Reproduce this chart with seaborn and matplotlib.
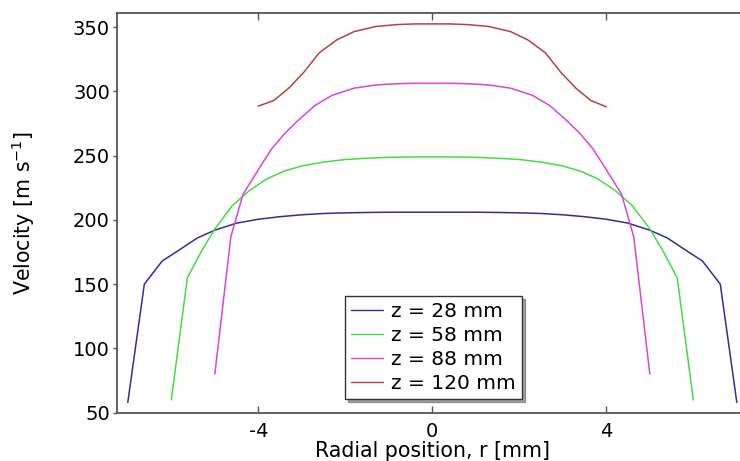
import numpy as np
import pandas as pd
import matplotlib
matplotlib.use("Agg")
import matplotlib.pyplot as plt
import seaborn as sns

# ---- data ----
labels = ["z = 28 mm", "z = 58 mm", "z = 88 mm", "z = 120 mm"]
colors = ["#2e2e98", "#44dc44", "#d845d8", "#bb4040"]

r_28 = [-7.0, -6.62, -6.21, -5.8, -5.4, -5.0, -4.5, -4.0, -3.5, -3.0, -2.5, -2.0, -1.5, -1.0, -0.5, 0.0,
        0.5, 1.0, 1.5, 2.0, 2.5, 3.0, 3.5, 4.0, 4.5, 5.0, 5.4, 5.8, 6.21, 6.62, 7.0]
v_28 = [58, 150, 168, 177, 186, 192, 197.5, 200.5, 202.5, 204, 205, 205.5, 205.8, 206, 206, 206,
        206, 206, 205.8, 205.5, 205, 204, 202.5, 200.5, 197.5, 192, 186, 177, 168, 150, 58]

r_58 = [-6.0, -5.63, -5.3, -5.0, -4.6, -4.2, -3.8, -3.4, -3.0, -2.5, -2.0, -1.5, -1.0, -0.5, 0.0,
        0.5, 1.0, 1.5, 2.0, 2.5, 3.0, 3.4, 3.8, 4.2, 4.6, 5.0, 5.3, 5.63, 6.0]
v_58 = [60, 155, 176, 193, 211, 223, 232, 238, 242, 245, 247, 248, 248.7, 249, 249,
        249, 248.7, 248, 247, 245, 242, 238, 232, 223, 211, 193, 176, 155, 60]

r_88 = [-5.0, -4.63, -4.35, -4.0, -3.7, -3.4, -3.1, -2.7, -2.3, -1.8, -1.3, -0.8, -0.4, 0.0,
        0.4, 0.8, 1.3, 1.8, 2.3, 2.7, 3.1, 3.4, 3.7, 4.0, 4.35, 4.63, 5.0]
v_88 = [80, 187, 220, 239, 255, 267, 277, 289, 297, 302.5, 305, 306, 306.3, 306.3,
        306.3, 306, 305, 302.5, 297, 289, 277, 267, 255, 239, 220, 187, 80]

r_120 = [-4.0, -3.64, -3.3, -2.95, -2.6, -2.2, -1.8, -1.3, -0.8, -0.4, 0.0,
         0.4, 0.8, 1.3, 1.8, 2.2, 2.6, 2.95, 3.3, 3.64, 4.0]
v_120 = [288.5, 293, 302.5, 315, 330, 340, 346.5, 350.5, 352, 352.5, 352.5,
         352.5, 352, 350.5, 346.5, 340, 330, 315, 302.5, 293, 288]

x_ticks = [-4, 0, 4]
y_ticks = [50, 100, 150, 200, 250, 300, 350]

frames = []
for lab, rr, vv in zip(labels, [r_28, r_58, r_88, r_120], [v_28, v_58, v_88, v_120]):
    frames.append(pd.DataFrame({"r": rr, "v": vv, "series": lab}))
df = pd.concat(frames, ignore_index=True)

sns.set_style("white")
plt.rcParams["font.family"] = ["DejaVu Sans"]
plt.rcParams["text.color"] = "black"
plt.rcParams["axes.labelcolor"] = "black"
plt.rcParams["xtick.labelcolor"] = "black"
plt.rcParams["ytick.labelcolor"] = "black"

fig = plt.figure(figsize=(7.4, 4.61), dpi=100)
ax = fig.add_axes([0.158, 0.1048, 0.8524, 0.867])

sns.lineplot(data=df, x="r", y="v", hue="series", hue_order=labels,
             palette=colors, estimator=None, sort=False, linewidth=1.1, ax=ax)

ax.set_xlim(-7.25, 7.25)
ax.set_ylim(50, 361)
ax.set_xticks(x_ticks)
ax.set_xticklabels([str(t) for t in x_ticks])
ax.set_yticks(y_ticks)
ax.set_yticklabels([str(t) for t in y_ticks])

for s in ax.spines.values():
    s.set_color("#555555")
    s.set_linewidth(1.3)
ax.tick_params(axis="x", which="both", direction="in", top=True, bottom=True,
               length=5, width=1, color="#555555", labelsize=14, pad=7)
ax.tick_params(axis="y", which="both", direction="out", left=True, right=False,
               length=3, width=1, color="#555555", labelsize=14, pad=2)

ax.set_xlabel("Radial position, r [mm]", fontsize=14.8, labelpad=0)
ax.set_ylabel("Velocity [m s$^{-1}$]", fontsize=14.8, labelpad=26)

leg = ax.legend(loc="lower left", bbox_to_anchor=(0.3615, 0.034), borderaxespad=0,
                fontsize=14.5, frameon=True, fancybox=False, shadow=True,
                handlelength=1.6, handletextpad=0.4, labelspacing=0.25,
                borderpad=0.3, edgecolor="#333333")
leg.get_frame().set_linewidth(1.0)
for lh in leg.get_lines():
    lh.set_linewidth(1.0)

fig.savefig("out.png", dpi=100)
